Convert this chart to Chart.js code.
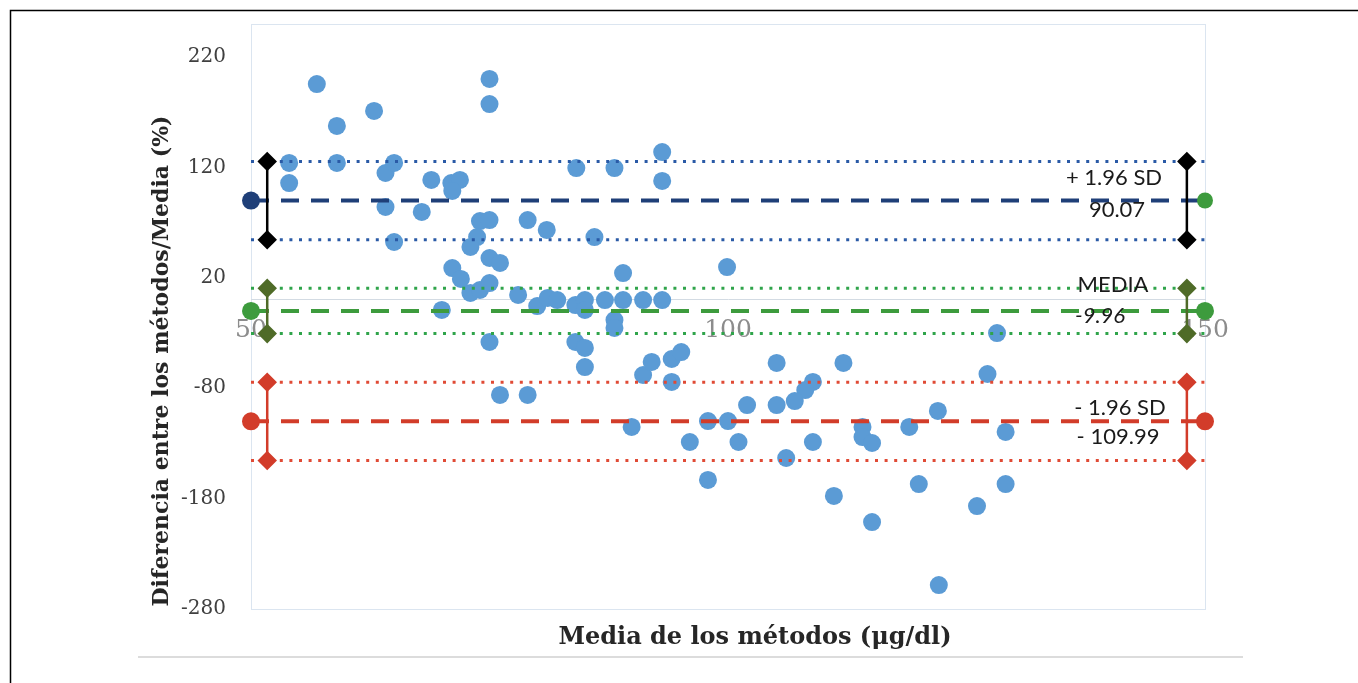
<!DOCTYPE html>
<html>
<head>
<meta charset="utf-8">
<script src="https://cdn.jsdelivr.net/npm/chart.js@4/dist/chart.umd.min.js"></script>
<style>
  body { margin: 0; background: #fff; }
  #wrap { position: relative; width: 1358px; height: 683px; }
</style>
</head>
<body>
<div id="wrap"><canvas id="bland"></canvas></div>
<script>
// media de los metodos (ug/dl) y diferencia/media (%)
const meanX = [54.0, 54.0, 56.9, 59.0, 59.0, 62.9, 64.1, 65.0, 64.1, 65.0,
  67.9, 68.9, 71.0, 71.9, 71.1, 74.0, 75.0, 73.7, 73.0, 75.0,
  75.0, 75.0, 76.1, 71.1, 72.0, 73.0, 74.0, 75.0, 70.0, 75.0,
  76.1, 79.0, 79.0, 81.0, 86.0, 84.1, 88.1, 93.1, 93.1, 89.0,
  78.0, 80.0, 81.1, 82.1, 84.0, 85.0, 85.0, 87.1, 89.0, 91.1,
  93.1, 88.1, 88.1, 84.0, 85.0, 85.0, 91.1, 92.0, 94.1, 95.1,
  94.1, 99.9, 105.1, 112.1, 108.9, 108.1, 107.0, 105.1, 102.0, 97.9,
  100.0, 89.9, 96.0, 101.1, 108.9, 106.1, 97.9, 111.1, 114.1, 114.1,
  115.1, 128.2, 127.2, 122.0, 119.0, 129.1, 120.0, 129.1, 126.1, 115.1,
  122.1]
const diffPct = [124.1, 105.9, 195.6, 157.6, 124.1, 171.2, 115.0, 124.1, 84.2, 52.5,
  79.7, 108.7, 105.9, 108.7, 98.7, 71.5, 72.4, 57.0, 48.0, 200.2,
  177.5, 38.0, 33.5, 28.9, 19.0, 6.3, 9.0, 15.3, -9.1, -38.1,
  -86.1, -86.1, 72.4, 63.4, 57.0, 119.5, 119.5, 134.0, 107.8, 24.4,
  4.5, -5.5, 1.8, -0.1, -4.6, -0.1, -9.1, -0.1, -0.1, -0.1,
  -0.1, -18.2, -25.4, -38.1, -43.5, -60.8, -68.0, -56.2, -53.5, -47.2,
  -74.3, 29.8, -57.1, -57.1, -74.3, -81.6, -91.6, -95.2, -95.2, -109.7,
  -109.7, -115.1, -128.7, -128.7, -128.7, -143.2, -163.1, -177.6, -115.1, -124.2,
  -129.6, -30.0, -67.1, -100.6, -115.1, -119.6, -166.8, -166.8, -186.7, -201.2,
  -258.3]

const upperLoA = 90.07
const bias = -9.96
const lowerLoA = -109.99
// intervalos de confianza de cada linea (sup, inf)
const upperCI = [125.5, 54.5]
const biasCI = [10.5, -30.5]
const lowerCI = [-74.5, -145.5]

const xTicks = [50, 100, 150]
const yTicks = [-280, -180, -80, 20, 120, 220]
const xRange = [50, 150]
const yRange = [-280, 250]
const whiskerX = [51.7, 148.1]

const BLUE_PTS = '#5b9bd5'
const NAVY = '#1f3f78'
const BLUE_DOT = '#2a5aa6'
const GREEN = '#3d9b3d'
const GREEN_DOT = '#2fa44a'
const OLIVE = '#4f6b28'
const RED = '#d23c2a'
const RED_DOT = '#e04a35'

function hline(y, color, dash, width) {
  return {
    data: [{x: xRange[0], y: y}, {x: xRange[1], y: y}],
    showLine: true, borderColor: color, borderWidth: width, borderDash: dash,
    pointRadius: 0, order: 2, clip: false
  }
}
function whisker(x, ci, color) {
  return {
    data: [{x: x, y: ci[0]}, {x: x, y: ci[1]}],
    showLine: true, borderColor: color, borderWidth: 2.5,
    pointStyle: 'rectRot', pointRadius: 8, pointBackgroundColor: color,
    pointBorderColor: color, order: 0, clip: false
  }
}

const points = meanX.map((v, i) => ({x: v, y: diffPct[i]}))

const decor = {
  id: 'decor',
  beforeDraw(chart) {
    const c = chart.ctx, a = chart.chartArea
    c.save()
    c.fillStyle = '#fff'
    c.fillRect(0, 0, chart.width, chart.height)
    c.strokeStyle = '#000'
    c.lineWidth = 1.5
    c.beginPath()
    c.moveTo(10.5, chart.height); c.lineTo(10.5, 10.5); c.lineTo(chart.width, 10.5)
    c.stroke()
    c.strokeStyle = '#dcdcdc'
    c.lineWidth = 2
    c.beginPath(); c.moveTo(138, 657); c.lineTo(1243, 657); c.stroke()
    c.strokeStyle = '#dbe5f0'
    c.lineWidth = 1
    c.strokeRect(a.left + 0.5, a.top + 0.5, a.right - a.left, a.bottom - a.top)
    c.restore()
  },
  afterDraw(chart) {
    const c = chart.ctx
    c.save()
    c.fillStyle = '#262626'
    c.textAlign = 'center'
    c.textBaseline = 'middle'
    c.font = 'bold 24px "DejaVu Serif"'
    c.fillText('Media de los métodos (μg/dl)', 755, 638)
    c.translate(162, 361)
    c.rotate(-Math.PI / 2)
    c.font = 'bold 22px "DejaVu Serif"'
    c.fillText('Diferencia entre los métodos/Media (%)', 0, 0)
    c.restore()

    c.save()
    c.fillStyle = '#1a1a1a'
    c.textAlign = 'center'
    c.textBaseline = 'middle'
    c.font = '22px Lato'
    c.fillText('+ 1.96 SD', 1114, 178)
    c.fillText(upperLoA.toFixed(2), 1117, 210)
    c.fillText('MEDIA', 1113, 285)
    c.fillText('- 1.96 SD', 1120, 408)
    c.fillText('- ' + Math.abs(lowerLoA).toFixed(2), 1118, 437)
    c.font = 'italic 22px Lato'
    c.fillText(bias.toFixed(2), 1100, 316)
    c.restore()
  }
}

const ctx = document.getElementById('bland').getContext('2d')
new Chart(ctx, {
  type: 'scatter',
  data: {
    datasets: [
      {data: points, backgroundColor: BLUE_PTS, borderWidth: 0, pointRadius: 9, order: 5},
      hline(upperCI[0], BLUE_DOT, [3, 6.6], 3),
      hline(upperCI[1], BLUE_DOT, [3, 6.6], 3),
      hline(upperLoA, NAVY, [18, 12], 4),
      hline(biasCI[0], GREEN_DOT, [3, 6.6], 3),
      hline(biasCI[1], GREEN_DOT, [3, 6.6], 3),
      hline(bias, GREEN, [18, 12], 4),
      hline(lowerCI[0], RED_DOT, [3, 6.6], 3),
      hline(lowerCI[1], RED_DOT, [3, 6.6], 3),
      hline(lowerLoA, RED, [18, 12], 4),
      whisker(whiskerX[0], upperCI, '#000'),
      whisker(whiskerX[0], biasCI, OLIVE),
      whisker(whiskerX[0], lowerCI, RED),
      whisker(whiskerX[1], upperCI, '#000'),
      whisker(whiskerX[1], biasCI, OLIVE),
      whisker(whiskerX[1], lowerCI, RED),
      {
        data: [{x: xRange[0], y: upperLoA}, {x: xRange[0], y: bias}, {x: xRange[0], y: lowerLoA}],
        pointRadius: 9, pointBackgroundColor: [NAVY, GREEN, RED], borderWidth: 0, order: 0, clip: false
      },
      {
        data: [{x: xRange[1], y: upperLoA}, {x: xRange[1], y: bias}, {x: xRange[1], y: lowerLoA}],
        pointRadius: [8, 9, 9], pointBackgroundColor: [GREEN, GREEN, RED], borderWidth: 0, order: 0, clip: false
      }
    ]
  },
  options: {
    responsive: true,
    maintainAspectRatio: false,
    animation: false,
    layout: {padding: {top: 24, right: 153, bottom: 74, left: 0}},
    plugins: {legend: {display: false}, tooltip: {enabled: false}},
    scales: {
      x: {
        type: 'linear',
        min: xRange[0], max: xRange[1],
        position: {y: 0},
        grid: {display: false, drawTicks: false},
        border: {display: true, color: '#d3dbe3', width: 1},
        afterBuildTicks: (s) => { s.ticks = xTicks.map(v => ({value: v})) },
        afterFit: (s) => { s.height = 0; s.paddingTop = 0; s.paddingBottom = 0 },
        ticks: {padding: 16, color: '#8c8c8c', font: {family: 'DejaVu Serif', size: 25}}
      },
      y: {
        min: yRange[0], max: yRange[1],
        grid: {display: false, drawTicks: false},
        border: {display: false},
        afterBuildTicks: (s) => { s.ticks = yTicks.map(v => ({value: v})) },
        afterFit: (s) => { s.width = 251; s.paddingTop = 0; s.paddingBottom = 0 },
        ticks: {padding: 25, color: '#404040', font: {family: 'DejaVu Serif', size: 20}}
      }
    }
  },
  plugins: [decor]
})
</script>
</body>
</html>
